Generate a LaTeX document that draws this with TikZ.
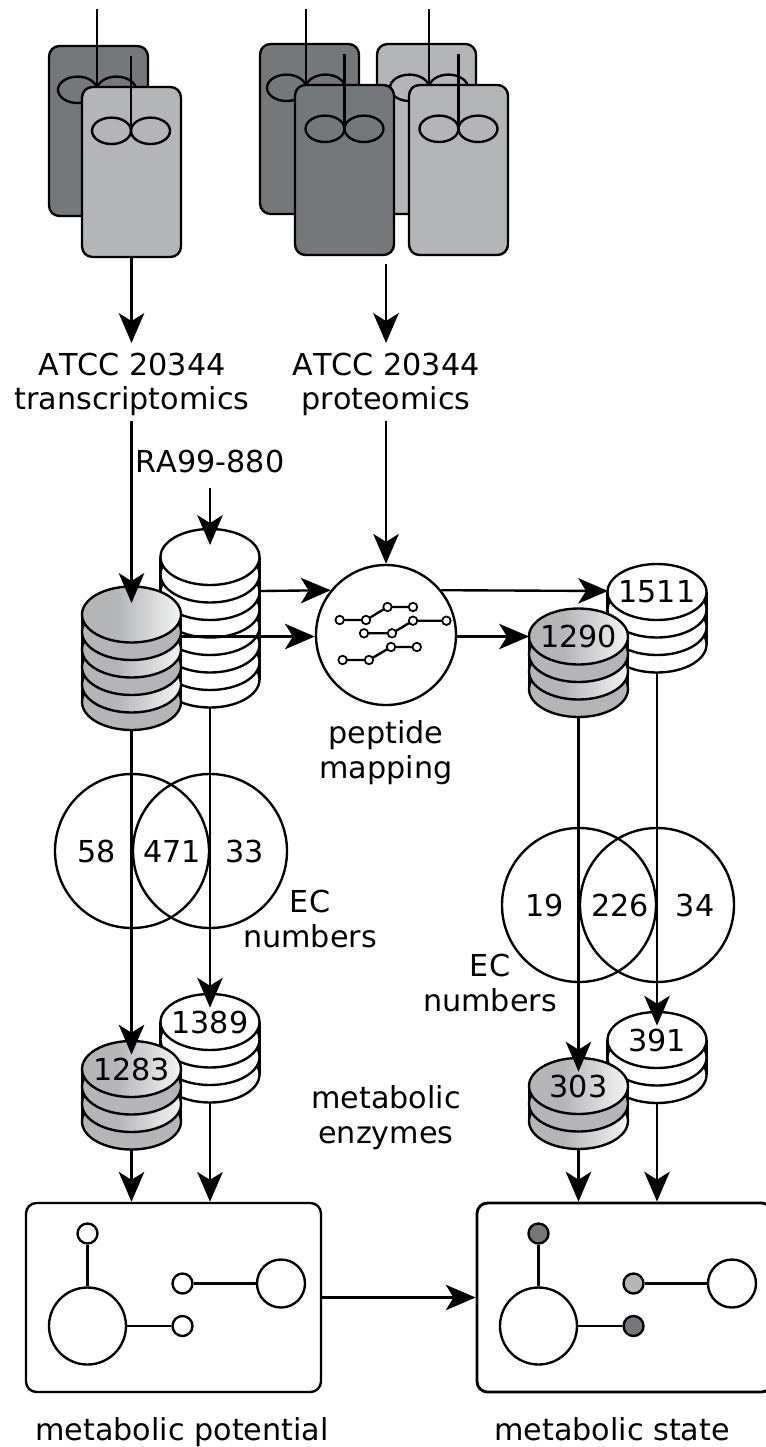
\documentclass[tikz,border=0pt]{standalone}
\usepackage{fontspec}
\setmainfont[Kerning=Off]{DejaVu Sans}
\usetikzlibrary{calc,arrows.meta}
\tikzset{>={Stealth[length=17pt,width=14.5pt,inset=4.5pt]}}
\definecolor{darkgrey}{HTML}{75787B}
\definecolor{lightgrey}{HTML}{B4B5B7}
\definecolor{fadegrey}{HTML}{F4F4F4}
\pgfdeclarehorizontalshading{drum}{100bp}{color(0bp)=(lightgrey); color(42bp)=(lightgrey); color(75bp)=(fadegrey); color(100bp)=(fadegrey)}
\def\px{0.02cm}
\tikzset{
  wire/.style={line width=1.35pt},
  reactorbox/.style={wire, draw, rounded corners=6pt, minimum width=99*\px, minimum height=170*\px, inner sep=0pt},
  lbl/.style={font=\fontsize{17.2}{19.8}\selectfont, align=center, inner sep=0pt},
  dbtext/.style={lbl, minimum height=28*\px},
  pepnode/.style={wire, draw, circle, fill=white, minimum size=70*2*\px, inner sep=0pt},
  pepdot/.style={line width=1pt, draw, circle, fill=white, minimum size=8.5*\px, inner sep=0pt},
  pool/.style={wire, draw, circle, fill=white, inner sep=0pt},
  cellbox/.style={wire, draw, rounded corners=6pt, minimum width=295*\px, minimum height=189*\px, inner sep=0pt},
  white0/.style={fill=white}, white1/.style={fill=white},
  grey0/.style={shade, shading=drum}, grey1/.style={fill=lightgrey},
}
% name, centre, shaft x, shaft length, colour
\newcommand{\bioreactor}[5]{
  \node[reactorbox, fill=#5] (#1) at (#2) {};
  \draw[wire] ($(#1.north)+(#3-19.5,45)$) ellipse (19.5 and 13.2);
  \draw[wire] ($(#1.north)+(#3+19.5,45)$) ellipse (19.5 and 13.2);
  \draw[wire] ($(#1.north)+(#3,-#4)$) -- ($(#1.north)+(#3,45)$);
}
% name, x, y, layers, colours, text
\newcommand{\dbstack}[6]{
  \foreach \i in {#4,...,0} {
    \pgfmathtruncatemacro{\k}{mod(\i,2)}
    \pgfmathsetmacro{\ya}{#3+(\i-1)*17.5}
    \pgfmathsetmacro{\yb}{#3+\i*17.5}
    \ifnum\i>0
      \path[#5\k] ({#2-49.5},\ya) rectangle ({#2+49.5},\yb);
      \draw[wire] ({#2-49.5},\ya) -- ({#2-49.5},\yb);
      \draw[wire] ({#2+49.5},\ya) -- ({#2+49.5},\yb);
    \fi
    \draw[wire, #5\k] (#2,\yb) ellipse (49.5 and 28);
  }
  \pgfmathsetmacro{\yc}{#3+28+#4*17.5}
  \coordinate (#1base) at (#2,\yc);
  \node[dbtext] (#1) at (#2,#3) {#6};
}
\begin{document}
\begin{tikzpicture}[x=0.02cm, y=-0.02cm]
\useasboundingbox (0,0) rectangle (765,1447);

% reactors
\bioreactor{rA}{98.5,131}{-1.5}{36}{darkgrey}
\bioreactor{rB}{131.5,172}{-0.5}{30}{lightgrey}
\bioreactor{rC}{309.5,129}{-3.5}{34}{darkgrey}
\bioreactor{rD}{426.5,129}{2.5}{34}{lightgrey}
\bioreactor{rE}{344.5,170}{0}{30}{darkgrey}
\bioreactor{rF}{458.5,170}{0}{30}{lightgrey}

% labels
\node[lbl] (transcr) at (132,384.5) {ATCC 20344\\transcriptomics};
\node[lbl] (proteo) at (386,384.5) {ATCC 20344\\proteomics};
\node[lbl] (strain) at (210,461) {RA99-880};
\node[lbl] (mapping) at (386,752.5) {peptide\\mapping};
\node[lbl] (ecleft) at (310,919) {EC\\numbers};
\node[lbl] (ecright) at (490,983) {EC\\numbers};
\node[lbl] (enzymes) at (386,1118) {metabolic\\enzymes};
\node[lbl, anchor=base] (potential) at (182,1440) {metabolic potential};
\node[lbl, anchor=base] (state) at (612,1440) {metabolic state};

% venn
\draw[wire] (132,851) circle (77);
\draw[wire] (210,851) circle (77);
\draw[wire] (579,905) circle (77);
\draw[wire] (657,905) circle (77);

% stacks
\dbstack{dbB}{210}{557}{7}{white}{}
\dbstack{dbA}{131.5}{614.5}{5}{grey}{}
\dbstack{dbG}{657}{592}{3}{white}{1511}
\dbstack{dbH}{578.5}{636.5}{3}{grey}{1290}
\dbstack{dbD}{210}{1022}{3}{white}{1389}
\dbstack{dbC}{131.5}{1069}{3}{grey}{1283}
\dbstack{dbJ}{657}{1040}{2}{white}{391}
\dbstack{dbI}{578.5}{1086}{2}{grey}{303}

% mapping
\node[pepnode] (pep) at (386,635) {};
\foreach \ax/\ay/\bx/\by/\cx/\cy/\dx/\dy in {339.7/620/366/620/387.5/607/413/607, 364/633.3/392/633.3/413/620.7/446.4/620.7, 342.6/660/369/660/391/647/416.8/647}
  \draw[wire] (\ax,\ay) node[pepdot] {} -- (\bx,\by) node[pepdot] {} -- (\cx,\cy) node[pepdot] {} -- (\dx,\dy) node[pepdot] {};

% boxes
\node[cellbox] (boxL) at (173.5,1297.5) {};
\node[cellbox, line width=1.6pt] (boxR) at (624.5,1297.5) {};
\foreach \nm/\dx/\ca/\cb in {p/0/white/white, s/451/darkgrey/lightgrey} {
  \node[pool, minimum size=77*\px] (\nm big) at (87.5+\dx,1326) {};
  \node[pool, minimum size=48*\px] (\nm far) at (281+\dx,1283.5) {};
  \node[pool, minimum size=20*\px, fill=\ca] (\nm top) at (87.5+\dx,1233.5) {};
  \node[pool, minimum size=20*\px, fill=\cb] (\nm mid) at (182.5+\dx,1283.5) {};
  \node[pool, minimum size=20*\px, fill=\ca] (\nm low) at (182.5+\dx,1326) {};
  \draw[wire] (\nm top) -- (\nm big);
  \draw[wire] (\nm big) -- (\nm low);
  \draw[wire] (\nm mid) -- (\nm far);
}

% free ends
\coordinate (proteoTop) at (386,264);
\coordinate (transcrEnd) at (131.5,343);
\coordinate (proteoEnd) at (386,343);
\coordinate (strainStart) at (210,488);
\coordinate (transcrOut) at (131.5,421);
\coordinate (proteoOut) at (386,421);
\coordinate (dbAin) at (131.5,603);
\coordinate (dbBin) at (210,545);
\coordinate (dbBout) at (260,591);
\coordinate (dbAout) at (182,636.5);
\coordinate (dbGin) at (608,591);
\coordinate (dbHin) at (529,636.5);

% arrows
\draw[wire, ->] (rB.south) -- (transcrEnd);
\draw[wire, ->] (proteoTop) -- (proteoEnd);
\draw[wire, ->] (transcrOut) -- (dbAin);
\draw[wire, ->] (strainStart) -- (dbBin);
\draw[wire, ->] (proteoOut) -- (pep.north);
\draw[wire, ->] (dbBout) -- (pep.141);
\draw[wire, ->] (dbAout) -- (dbAout -| pep.west);
\draw[wire, ->] (pep.39) -- (dbGin);
\draw[wire, ->] (dbHin -| pep.east) -- (dbHin);
\draw[wire, ->] (dbAbase) -- (dbC.north);
\draw[wire, ->] (dbBbase) -- (dbD.north);
\draw[wire, ->] (dbHbase) -- (dbI.north);
\draw[wire, ->] (dbGbase) -- (dbJ.north);
\draw[wire, ->] (dbCbase) -- (dbCbase |- boxL.north);
\draw[wire, ->] (dbDbase) -- (dbDbase |- boxL.north);
\draw[wire, ->] (dbIbase) -- (dbIbase |- boxR.north);
\draw[wire, ->] (dbJbase) -- (dbJbase |- boxR.north);
\draw[wire, ->] (boxL.east) -- (boxR.west);

% venn counts
\node[lbl] (v1) at (97,851) {58};
\node[lbl] (v2) at (172,851) {471};
\node[lbl] (v3) at (245,851) {33};
\node[lbl] (v4) at (545,905) {19};
\node[lbl] (v5) at (620,905) {226};
\node[lbl] (v6) at (695,905) {34};
\end{tikzpicture}
\end{document}
